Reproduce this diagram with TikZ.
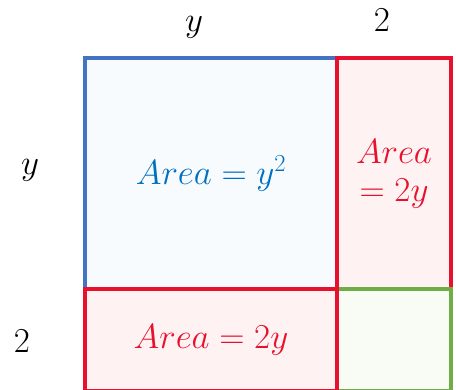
\RequirePackage{fix-cm}
\documentclass[tikz,border=0pt]{standalone}
\usetikzlibrary{positioning}
\definecolor{areaBlue}{RGB}{68, 114, 196}
\definecolor{areaBlueText}{RGB}{0, 112, 192}
\definecolor{areaBlueBg}{RGB}{248, 251, 254}
\definecolor{areaRed}{RGB}{232, 17, 45}
\definecolor{areaRedBg}{RGB}{255, 242, 243}
\definecolor{areaGreen}{RGB}{112, 173, 71}
\definecolor{areaGreenBg}{RGB}{249, 251, 245}

\begin{document}
\begin{tikzpicture}[
    x=1pt, y=-1pt,
    font=\fontsize{35}{40}\selectfont,
    box/.style={
        rectangle,
        line width=4pt,
        anchor=north west,
        inner sep=0pt,
        align=center
    },
    side/.style={
        inner sep=0pt,
        text=black
    }
]
\useasboundingbox (0,0) rectangle (456,389);

% 1. Square y by y
\node[box, draw=areaBlue, fill=areaBlueBg, text=areaBlueText,
      minimum width=252pt, minimum height=231pt] (sq) at (83,56) {$Area = y^2$};

% 2. Strip 2 by y (right)
\node[box, draw=areaRed, fill=areaRedBg, text=areaRed,
      minimum width=114pt, minimum height=231pt] (right) at (335,56) {$Area$\\[-2pt]$= 2y$};

% 3. Corner 2 by 2
\node[box, draw=areaGreen, fill=areaGreenBg,
      minimum width=114pt, minimum height=102pt] (corner) at (335,287) {};

% 4. Strip y by 2 (bottom)
\node[box, draw=areaRed, fill=areaRedBg, text=areaRed,
      minimum width=252pt, minimum height=102pt] (bottom) at (83,287) {$Area = 2y$};

% side lengths
\node[side] (top_y) at (194,27) {$y$};
\node[side] (top_2) at (382,20) {$2$};
\node[side] (left_y) at (30,170) {$y$};
\node[side] (left_2) at (22,341) {$2$};
\end{tikzpicture}
\end{document}
